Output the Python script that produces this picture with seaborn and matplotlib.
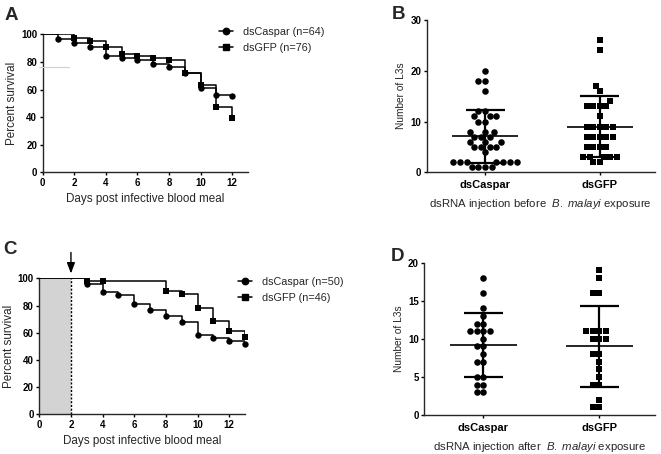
import numpy as np
import pandas as pd
import matplotlib
matplotlib.use("Agg")
import matplotlib.pyplot as plt
import seaborn as sns
from matplotlib.lines import Line2D
from matplotlib.patches import Rectangle

# Survival curves, panel A (days post infective blood meal, percent survival)
a_days_caspar = [0, 1, 2, 3, 4, 5, 6, 7, 8, 9, 10, 11, 12]
a_surv_caspar = [100, 96.8, 93.6, 90.6, 84.6, 82.8, 81.2, 78.2, 76.6, 72.0, 61.0, 56.3, 55.0]
a_days_gfp = [0, 2, 3, 4, 5, 6, 7, 8, 9, 10, 11, 12]
a_surv_gfp = [100, 97.4, 95.0, 91.0, 86.0, 84.5, 83.0, 81.5, 72.0, 63.4, 47.4, 39.5]

# Survival curves, panel C
c_days_caspar = [0, 3, 4, 5, 6, 7, 8, 9, 10, 11, 12, 13]
c_surv_caspar = [100, 96.0, 90.0, 88.0, 81.0, 76.6, 72.0, 67.6, 58.6, 56.3, 54.0, 51.8]
c_days_gfp = [0, 3, 4, 8, 9, 10, 11, 12, 13]
c_surv_gfp = [100, 97.8, 97.8, 90.3, 88.2, 78.3, 68.5, 61.0, 56.5]

# L3 counts, panel B (injection before exposure)
b_caspar = [20, 18, 18, 16, 12, 12, 11, 11, 11, 10, 10, 8, 8, 8, 7, 7, 7,
            6, 6, 6, 5, 5, 5, 5, 4, 2, 2, 2, 2, 2, 2, 2, 1, 1, 1, 1]
b_gfp = [26, 24, 17, 16, 14, 13, 13, 13, 13, 11, 9, 9, 9, 9, 9, 7, 7, 7, 7, 7,
         5, 5, 5, 5, 3, 3, 3, 3, 3, 2, 2]

# L3 counts, panel D (injection after exposure)
d_caspar = [18, 16, 14, 13, 12, 12, 11, 11, 11, 11, 10, 9, 9, 8, 7, 7, 5, 5, 4, 4, 3, 3]
d_gfp = [19, 18, 16, 16, 11, 11, 11, 11, 10, 10, 10, 8, 8, 7, 6, 5, 4, 4, 2, 1, 1]

groups = ["dsCaspar", "dsGFP"]

sns.set_style("ticks")
plt.rcParams["font.family"] = ["Liberation Sans", "DejaVu Sans"]
plt.rcParams["mathtext.fontset"] = "custom"
plt.rcParams["mathtext.rm"] = "Liberation Sans"
plt.rcParams["mathtext.it"] = "Liberation Sans:italic"
plt.rcParams["axes.linewidth"] = 1.0
plt.rcParams["xtick.major.width"] = 1.0
plt.rcParams["ytick.major.width"] = 1.0
plt.rcParams["xtick.major.size"] = 2.5
plt.rcParams["ytick.major.size"] = 2.5

W, H = 661, 454
fig = plt.figure(figsize=(W / 100, H / 100), dpi=100)


def px_axes(left, top, right, bottom):
    return fig.add_axes([left / W, 1 - bottom / H, (right - left) / W, (bottom - top) / H])


def style_axes(ax):
    sns.despine(ax=ax)
    for lab in ax.get_xticklabels() + ax.get_yticklabels():
        lab.set_fontweight("bold")
    ax.tick_params(labelsize=7, pad=1.5, colors="black")


def survival_panel(ax, d1, s1, d2, s2):
    df1 = pd.DataFrame({"day": d1, "surv": s1})
    df2 = pd.DataFrame({"day": d2, "surv": s2})
    sns.lineplot(data=df1, x="day", y="surv", drawstyle="steps-post", color="black",
                 lw=1.1, ax=ax, zorder=3)
    sns.lineplot(data=df2, x="day", y="surv", drawstyle="steps-post", color="black",
                 lw=1.1, ax=ax, zorder=3)
    sns.scatterplot(data=df1[df1.day > 0], x="day", y="surv", marker="o", color="black",
                    s=21, linewidth=0, ax=ax, zorder=4, clip_on=False)
    sns.scatterplot(data=df2[df2.day > 0], x="day", y="surv", marker="s", color="black",
                    s=21, linewidth=0, ax=ax, zorder=4, clip_on=False)
    ax.set_xlim(0, 13)
    ax.set_ylim(0, 100)
    ax.set_xticks(range(0, 13, 2))
    ax.set_yticks(range(0, 101, 20))
    ax.set_xlabel("Days post infective blood meal", fontsize=8.4, labelpad=4)
    ax.set_ylabel("Percent survival", fontsize=8.4, labelpad=2)
    style_axes(ax)


def legend_handles():
    return [Line2D([0], [0], color="black", lw=1.1, marker="o", ms=4.6),
            Line2D([0], [0], color="black", lw=1.1, marker="s", ms=4.6)]


def count_panel(ax, v1, v2, ymax, ystep, xlabel):
    df1 = pd.DataFrame({"group": "dsCaspar", "n": v1})
    df2 = pd.DataFrame({"group": "dsGFP", "n": v2})
    sns.swarmplot(data=df1, x="group", y="n", order=groups, marker="o", color="black",
                  size=4.7, ax=ax, zorder=2)
    sns.swarmplot(data=df2, x="group", y="n", order=groups, marker="s", color="black",
                  size=4.5, ax=ax, zorder=2)
    for i, vals in enumerate([v1, v2]):
        m = np.mean(vals)
        sd = np.std(vals, ddof=1)
        ax.hlines(m, i - 0.29, i + 0.29, color="black", lw=1.2, zorder=3)
        ax.hlines([m - sd, m + sd], i - 0.17, i + 0.17, color="black", lw=1.6, zorder=3)
        ax.vlines(i, m - sd, m + sd, color="black", lw=1.6, zorder=3)
    ax.set_xlim(-0.51, 1.48)
    ax.set_ylim(0, ymax)
    ax.set_yticks(np.arange(0, ymax + 1, ystep))
    ax.set_ylabel("Number of L3s", fontsize=7.3, labelpad=3)
    ax.set_xlabel(xlabel, fontsize=8.2, labelpad=5)
    style_axes(ax)
    ax.tick_params(axis="x", labelsize=8, pad=3)


# Panel A
axA = px_axes(42.7, 34.3, 248, 172.3)
survival_panel(axA, a_days_caspar, a_surv_caspar, a_days_gfp, a_surv_gfp)
axA.legend(legend_handles(), ["dsCaspar (n=64)", "dsGFP (n=76)"], loc="upper left",
           bbox_to_anchor=(219 / W, 1 - 27 / H), bbox_transform=fig.transFigure,
           frameon=False, fontsize=7.8, handlelength=1.3, handletextpad=0.9,
           labelspacing=0.55, borderpad=0, borderaxespad=0)
fig.add_artist(Line2D([39 / W, 69 / W], [1 - 67 / H, 1 - 67 / H], color="#d0d0d0", lw=0.8))

# Panel C
axC = px_axes(39.3, 278.3, 245, 414.3)
axC.add_patch(Rectangle((0, 0), 2, 100, facecolor="#d3d3d3", edgecolor="none", zorder=1))
axC.vlines(2, 0, 100, color="black", lw=1.0, linestyles=(0, (1.5, 1.2)), zorder=2)
survival_panel(axC, c_days_caspar, c_surv_caspar, c_days_gfp, c_surv_gfp)
axC.annotate("", xy=(2, 103.5), xytext=(2, 119), annotation_clip=False,
             arrowprops=dict(arrowstyle="-|>,head_length=0.8,head_width=0.3",
                             color="black", lw=1.0, mutation_scale=8,
                             shrinkA=0, shrinkB=0))
axC.legend(legend_handles(), ["dsCaspar (n=50)", "dsGFP (n=46)"], loc="upper left",
           bbox_to_anchor=(238 / W, 1 - 277 / H), bbox_transform=fig.transFigure,
           frameon=False, fontsize=7.8, handlelength=1.3, handletextpad=0.9,
           labelspacing=0.55, borderpad=0, borderaxespad=0)

# Panel B
axB = px_axes(426.7, 20, 655, 172.3)
count_panel(axB, b_caspar, b_gfp, 30, 10,
            r"dsRNA injection before  $\mathit{B.\ malayi}$ exposure")

# Panel D
axD = px_axes(424.3, 262.7, 655, 415)
count_panel(axD, d_caspar, d_gfp, 20, 5,
            r"dsRNA injection after  $\mathit{B.\ malayi}$ exposure")

# Panel letters
for letter, x, y in [("A", 5, 7), ("B", 392, 6), ("C", 3, 241), ("D", 391, 248)]:
    fig.text(x / W, 1 - y / H, letter, fontsize=13.5, fontweight="bold", va="top", ha="left")

fig.savefig("out.png", dpi=100)
